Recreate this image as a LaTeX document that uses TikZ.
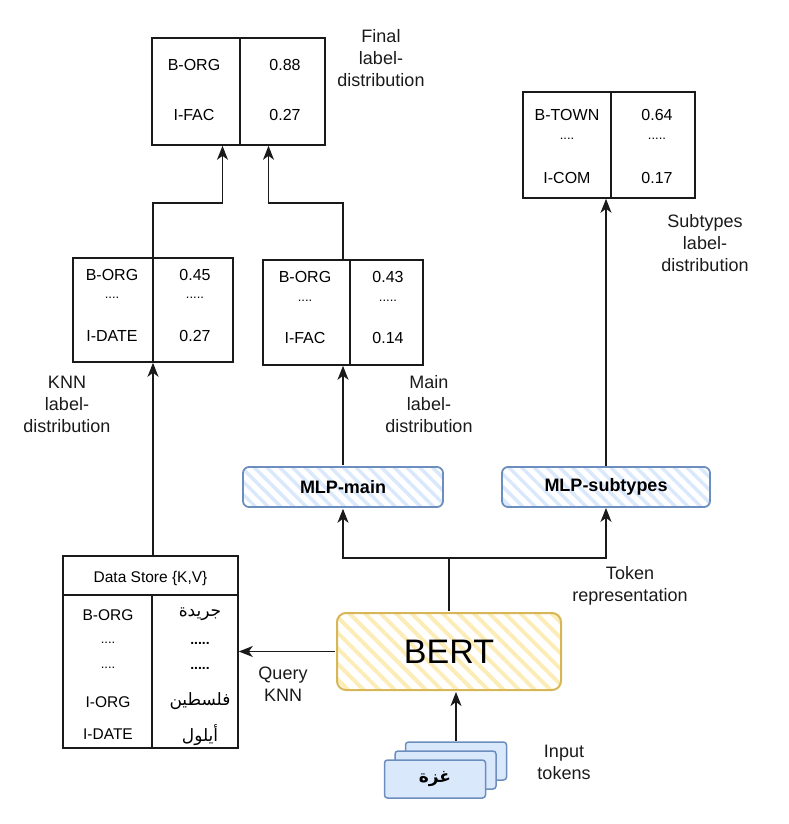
\documentclass[tikz,border=0pt]{standalone}
\usepackage{fontspec}
\setmainfont{Liberation Sans}
\newfontfamily\arabicfont[Script=Arabic]{DejaVu Sans}
\TeXXeTstate=1
\usetikzlibrary{arrows.meta,patterns.meta,calc}
\definecolor{bluestroke}{HTML}{6C8EBF}
\definecolor{bluefill}{HTML}{DAE8FC}
\definecolor{yelstroke}{HTML}{D6B656}
\definecolor{yelfill}{HTML}{FCEDB8}
\definecolor{inkc}{HTML}{1A1A1A}
\tikzset{
  tbl/.style={draw=inkc, line width=1.6pt, rectangle, inner sep=0pt},
  tline/.style={draw=inkc, line width=1.5pt},
  cell/.style={font=\fontsize{16}{19}\selectfont, inner sep=1pt},
  dots/.style={font=\fontsize{13}{15}\selectfont, inner sep=1pt},
  lbl/.style={font=\fontsize{18}{22}\selectfont, align=center, inner sep=0pt, text=inkc},
  conn/.style={line width=1.4pt, draw=inkc},
  arr/.style={conn, -{Stealth[length=14pt,width=11pt,inset=4pt]}},
  mlp/.style={draw=bluestroke, line width=1.8pt, rounded corners=6pt,
    pattern={Lines[angle=-45,distance=9pt,line width=3.5pt]}, pattern color=bluefill,
    font=\bfseries\fontsize{18}{22}\selectfont, inner sep=0pt},
  bertbox/.style={draw=yelstroke, line width=2pt, rounded corners=9pt,
    pattern={Lines[angle=-45,distance=11pt,line width=4pt]}, pattern color=yelfill,
    font=\fontsize{34}{40}\selectfont, inner sep=0pt},
  tokbox/.style={draw=bluestroke, fill=bluefill, line width=1.5pt, rounded corners=3pt,
    minimum width=101pt, minimum height=38pt, inner sep=0pt},
}
\begin{document}
\begin{tikzpicture}[x=1pt,y=-1pt]
\useasboundingbox (0,0) rectangle (788,824);

% ---------- Final label distribution ----------
\node[tbl, minimum width=173pt, minimum height=107pt] (fin) at (238.5,91.5) {};
\draw[tline] (240,38) -- (240,145);
\node[cell] (fin11) at (194,65) {B-ORG};
\node[cell] (fin12) at (285,65) {0.88};
\node[cell] (fin21) at (194,115) {I-FAC};
\node[cell] (fin22) at (285,115) {0.27};
\node[lbl] (finl) at (381,58) {Final\\label-\\distribution};

% ---------- Subtypes label distribution ----------
\node[tbl, minimum width=172pt, minimum height=106pt] (sub) at (609,145) {};
\draw[tline] (611,92) -- (611,198);
\node[cell] (sub11) at (567,115) {B-TOWN};
\node[cell] (sub12) at (657,115) {0.64};
\node[dots] (sub21) at (567,139) {....};
\node[dots] (sub22) at (657,139) {.....};
\node[cell] (sub31) at (567,178) {I-COM};
\node[cell] (sub32) at (657,178) {0.17};
\node[lbl] (subl) at (705,243) {Subtypes\\label-\\distribution};

% ---------- KNN label distribution ----------
\node[tbl, minimum width=160pt, minimum height=104pt] (knn) at (153,310) {};
\draw[tline] (153,258) -- (153,362);
\node[cell] (knn11) at (112,275) {B-ORG};
\node[cell] (knn12) at (195,275) {0.45};
\node[dots] (knn21) at (112,298) {....};
\node[dots] (knn22) at (195,298) {.....};
\node[cell] (knn31) at (112,336) {I-DATE};
\node[cell] (knn32) at (195,336) {0.27};
\node[lbl] (knnl) at (67,404) {KNN\\label-\\distribution};

% ---------- Main label distribution ----------
\node[tbl, minimum width=160pt, minimum height=105pt] (main) at (343,312.5) {};
\draw[tline] (350,260) -- (350,365);
\node[cell] (main11) at (305,277) {B-ORG};
\node[cell] (main12) at (388,277) {0.43};
\node[dots] (main21) at (305,301) {....};
\node[dots] (main22) at (388,301) {.....};
\node[cell] (main31) at (305,338) {I-FAC};
\node[cell] (main32) at (388,338) {0.14};
\node[lbl] (mainl) at (429,404) {Main\\label-\\distribution};

% ---------- MLPs ----------
\node[mlp, minimum width=200pt, minimum height=40pt] (mlpm) at (343,487) {MLP-main};
\node[mlp, minimum width=208pt, minimum height=40pt] (mlps) at (606,487) {MLP-subtypes};

% ---------- BERT ----------
\node[bertbox, minimum width=224pt, minimum height=77pt] (bert) at (449,651.5) {BERT};

% ---------- Data store ----------
\node[tbl, minimum width=175pt, minimum height=192pt] (ds) at (150.5,652) {};
\draw[tline] (63,595) -- (238,595);
\draw[tline] (152,595) -- (152,748);
\node[cell, font=\fontsize{15.5}{18}\selectfont] (dsh) at (150.5,578) {Data Store \{K,V\}};
\node[cell, font=\fontsize{15.5}{18}\selectfont] (ds11) at (108,615) {B-ORG};
\node[dots] (ds21) at (108,643) {....};
\node[dots] (ds31) at (108,668) {....};
\node[cell, font=\fontsize{15.5}{18}\selectfont] (ds41) at (108,702) {I-ORG};
\node[cell, font=\fontsize{15.5}{18}\selectfont] (ds51) at (108,734) {I-DATE};
\node[cell, font=\fontsize{17}{20}\selectfont] (ds12) at (200,614) {\arabicfont\beginR جريدة\endR};
\node[dots, font=\bfseries\fontsize{14}{16}\selectfont] (ds22) at (200,643) {.....};
\node[dots, font=\bfseries\fontsize{14}{16}\selectfont] (ds32) at (200,668) {.....};
\node[cell, font=\fontsize{17}{20}\selectfont] (ds42) at (200,701) {\arabicfont\beginR فلسطين\endR};
\node[cell, font=\fontsize{17}{20}\selectfont] (ds52) at (200,735) {\arabicfont\beginR أيلول\endR};

% ---------- Input tokens ----------
\node[tokbox] (tok3) at (456,761) {};
\node[tokbox] (tok2) at (445.5,770) {};
\node[tokbox, font=\bfseries\fontsize{17}{20}\selectfont] (tok1) at (435,779) {\arabicfont\beginR غزة\endR};
\node[lbl] (tokl) at (564,762) {Input\\tokens};

% ---------- Other labels ----------
\node[lbl] (trep) at (630,586) {Token\\representation};
\node[lbl] (qknn) at (283,684) {Query\\KNN};

% ---------- Connectors ----------
\coordinate (f1) at ($(fin.south)+(-16,0)$);
\coordinate (f2) at ($(fin.south)+(30,0)$);
\draw[arr] (knn.north) |- ($(f1)+(0,57)$) -- (f1);
\draw[arr] (main.north) |- ($(f2)+(0,57)$) -- (f2);
\draw[arr] (ds.north -| knn.south) -- (knn.south);
\draw[arr] (mlpm.north) -- (main.south);
\draw[arr] (mlps.north) -- (mlps.north |- sub.south);
\coordinate (j) at ($(bert.north)+(0,-53)$);
\draw[conn] (bert.north) -- (j);
\draw[arr] (j) -| (mlpm.south);
\draw[arr] (j) -| (mlps.south);
\draw[arr] (bert.west) -- (bert.west -| ds.east);
\draw[arr] (tok3.north) -- (bert.south -| tok3.north);
\end{tikzpicture}
\end{document}
